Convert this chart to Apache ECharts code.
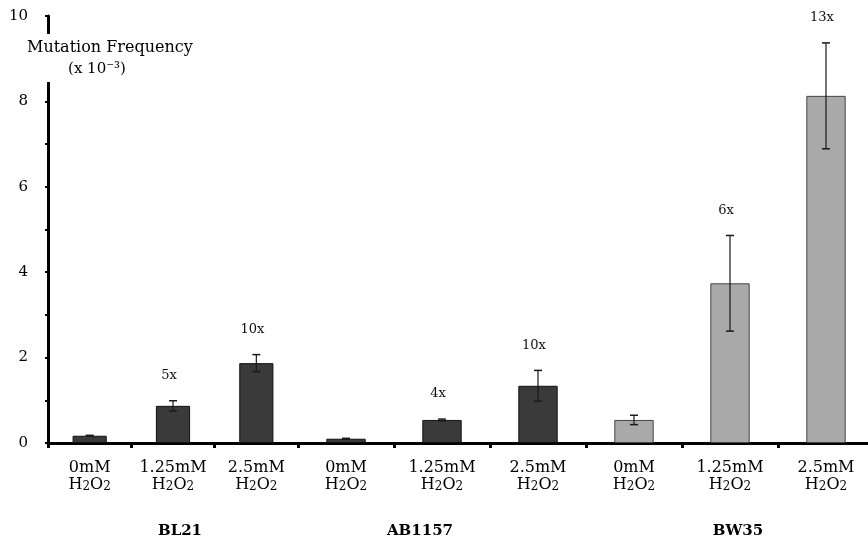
<!DOCTYPE html>
<html>
<head>
<meta charset="utf-8">
<script src="https://cdn.jsdelivr.net/npm/echarts@6/dist/echarts.min.js"></script>
<style>html,body{margin:0;padding:0;background:#fff}#c{width:868px;height:544px}</style>
</head>
<body>
<div id="c"></div>
<script>
// ---- data ----
const groups = ['BL21', 'AB1157', 'BW35'];
const doses = ['0mM', '1.25mM', '2.5mM'];
const agentParts = [['H', '2'], ['O', '2']];
const bl21 = [0.17, 0.87, 1.87];
const bl21Err = [0.01, 0.12, 0.20];
const bl21Fold = ['', '5x', '10x'];
const ab1157 = [0.10, 0.54, 1.34];
const ab1157Err = [0.01, 0.02, 0.36];
const ab1157Fold = ['', '4x', '10x'];
const bw35 = [0.54, 3.74, 8.13];
const bw35Err = [0.11, 1.12, 1.24];
const bw35Fold = ['', '6x', '13x'];
const yTicks = [0, 2, 4, 6, 8, 10];
const yTitle = 'Mutation Frequency';
const yUnit = '(x 10⁻³)';

// ---- styles ----
const FONT = 'DejaVu Serif';
const DARK = '#3a3a3a', LIGHT = '#a9a9a9';
const groupShift = [7, -22, 8];

const chart = echarts.init(document.getElementById('c'), null, {renderer: 'canvas'});

function richStyles() {
  const r = {
    n: {fontFamily: FONT, fontSize: 16, color: '#000', lineHeight: 17},
    s: {fontFamily: FONT, fontSize: 12, color: '#000', lineHeight: 11, verticalAlign: 'bottom'}
  };
  groupShift.forEach((s, i) => {
    r['g' + i] = {
      fontFamily: FONT, fontWeight: 'bold', fontSize: 15, color: '#000',
      lineHeight: 77,
      padding: s >= 0 ? [0, 0, 0, 2 * s] : [0, -2 * s, 0, 0]
    };
  });
  return r;
}

const agentRich = agentParts.map(p => '{n|' + p[0] + '}{s|' + p[1] + '}').join('');

function xAxisCfg(gridIndex, cats, groupOf) {
  return {
    type: 'category', gridIndex: gridIndex, data: cats,
    axisLine: {lineStyle: {color: '#000', width: 3}},
    axisTick: {show: true, length: 5, lineStyle: {color: '#000', width: 3}},
    axisLabel: {
      interval: 0, margin: 16, fontFamily: FONT, fontSize: 16, color: '#000', lineHeight: 17,
      rich: richStyles(),
      formatter: function (v, i) {
        let s = '{n|' + v + '}\n' + agentRich;
        if (i % 3 === 1) {
          const g = groupOf(i);
          s += '\n{g' + g + '|' + groups[g] + '}';
        }
        return s;
      }
    },
    splitLine: {show: false}
  };
}

function yAxisCfg(gridIndex, show) {
  return {
    type: 'value', gridIndex: gridIndex, min: yTicks[0], max: yTicks[yTicks.length - 1], interval: 1,
    show: show,
    axisLine: {show: true, lineStyle: {color: '#000', width: 3}},
    axisTick: {show: true, length: 3, lineStyle: {color: '#000', width: 2}},
    axisLabel: {
      margin: 20, fontFamily: FONT, fontSize: 15, color: '#000',
      formatter: v => (yTicks.indexOf(v) >= 0 ? String(v) : '')
    },
    splitLine: {show: false}
  };
}

function errSeries(axisIdx, means, errs, folds) {
  return {
    type: 'custom', xAxisIndex: axisIdx, yAxisIndex: axisIdx, clip: false, z: 5,
    encode: {x: 0, y: 1},
    data: means.map((m, i) => [i, m, errs[i]]),
    renderItem: function (params, api) {
      const i = api.value(0), m = api.value(1), e = api.value(2);
      const top = api.coord([i, m + e]);
      const bot = api.coord([i, m - e]);
      const cap = 4;
      const children = [
        {type: 'line', shape: {x1: top[0], y1: top[1], x2: bot[0], y2: bot[1]}, style: {stroke: '#1a1a1a', lineWidth: 1.2}},
        {type: 'line', shape: {x1: top[0] - cap, y1: top[1], x2: top[0] + cap, y2: top[1]}, style: {stroke: '#1a1a1a', lineWidth: 1.5}},
        {type: 'line', shape: {x1: bot[0] - cap, y1: bot[1], x2: bot[0] + cap, y2: bot[1]}, style: {stroke: '#1a1a1a', lineWidth: 1.5}}
      ];
      const f = folds[params.dataIndex];
      if (f) {
        children.push({type: 'text', style: {text: f, x: top[0] - 4, y: top[1] - 25, align: 'center', verticalAlign: 'middle',
          fontFamily: FONT, fontSize: 13, fill: '#111'}});
      }
      return {type: 'group', children: children};
    }
  };
}

const grid2Means = ab1157.concat(bw35);
const grid2Errs = ab1157Err.concat(bw35Err);
const grid2Folds = ab1157Fold.concat(bw35Fold);
const grid2Cats = doses.concat(doses);

const option = {
  animation: false,
  backgroundColor: '#fff',
  grid: [
    {left: 48, width: 250, top: 16, bottom: 101, containLabel: false, outerBoundsMode: 'none'},
    {left: 298, width: 576, top: 16, bottom: 101, containLabel: false, outerBoundsMode: 'none'}
  ],
  xAxis: [
    xAxisCfg(0, doses, () => 0),
    xAxisCfg(1, grid2Cats, i => (i < 3 ? 1 : 2))
  ],
  yAxis: [yAxisCfg(0, true), yAxisCfg(1, false)],
  series: [
    {
      type: 'bar', xAxisIndex: 0, yAxisIndex: 0, barWidth: '41%', data: bl21,
      itemStyle: {color: DARK, borderColor: '#111', borderWidth: 1}
    },
    {
      type: 'bar', xAxisIndex: 1, yAxisIndex: 1, barWidth: '41%',
      data: grid2Means.map((v, i) => ({
        value: v,
        itemStyle: i < 3 ? {color: DARK, borderColor: '#111', borderWidth: 1}
                         : {color: LIGHT, borderColor: '#444', borderWidth: 1}
      }))
    },
    errSeries(0, bl21, bl21Err, bl21Fold),
    errSeries(1, grid2Means, grid2Errs, grid2Folds)
  ],
  graphic: [
    {type: 'rect', z: 100, shape: {x: 40, y: 34, width: 16, height: 48}, style: {fill: '#fff'}},
    {type: 'text', z: 101, style: {text: yTitle, x: 27, y: 48, verticalAlign: 'middle', fontFamily: FONT, fontSize: 16, fill: '#000'}},
    {type: 'text', z: 101, style: {text: yUnit, x: 97, y: 69, align: 'center', verticalAlign: 'middle', fontFamily: FONT, fontSize: 15, fill: '#000'}}
  ]
};
chart.setOption(option);
</script>
</body>
</html>
